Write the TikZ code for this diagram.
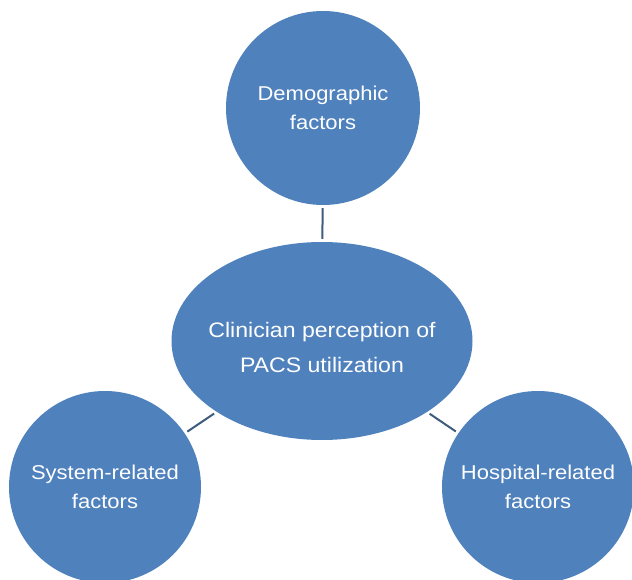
\documentclass[tikz,border=0pt]{standalone}
\usepackage{fontspec}
\setmainfont{Liberation Sans}[FakeStretch=1.1]
\usepackage{xcolor}
\usetikzlibrary{shapes.geometric}
\definecolor{bubble}{HTML}{4F81BD}
\definecolor{link}{HTML}{3F5B7C}
\begin{document}
\begin{tikzpicture}[x=1pt, y=-1pt]
    \tikzstyle{factor} = [circle, fill=bubble, text=white, align=center, inner sep=0pt, minimum size=192pt, font=\fontsize{20}{29}\selectfont]
    \tikzstyle{core} = [ellipse, fill=bubble, text=white, align=center, inner xsep=-12pt, inner ysep=0pt, minimum width=301pt, minimum height=198pt, font=\fontsize{21}{35}\selectfont]
    \tikzstyle{link} = [draw=link, line width=2pt, shorten <=3pt, shorten >=3pt]
    \useasboundingbox (0,0) rectangle (632,580);
    \node[factor, minimum size=194pt] (demo) at (323,108) {Demographic\\factors};
    \node[core] (clin) at (322,341) {\\[-6pt]Clinician perception of\\PACS utilization};
    \node[factor] (sys) at (105,487) {System-related\\factors};
    \node[factor] (hosp) at (538,487) {Hospital-related\\factors};
    \draw[link] (demo) -- (clin);
    \draw[link] (sys) -- (clin);
    \draw[link] (hosp) -- (clin);
\end{tikzpicture}
\end{document}
